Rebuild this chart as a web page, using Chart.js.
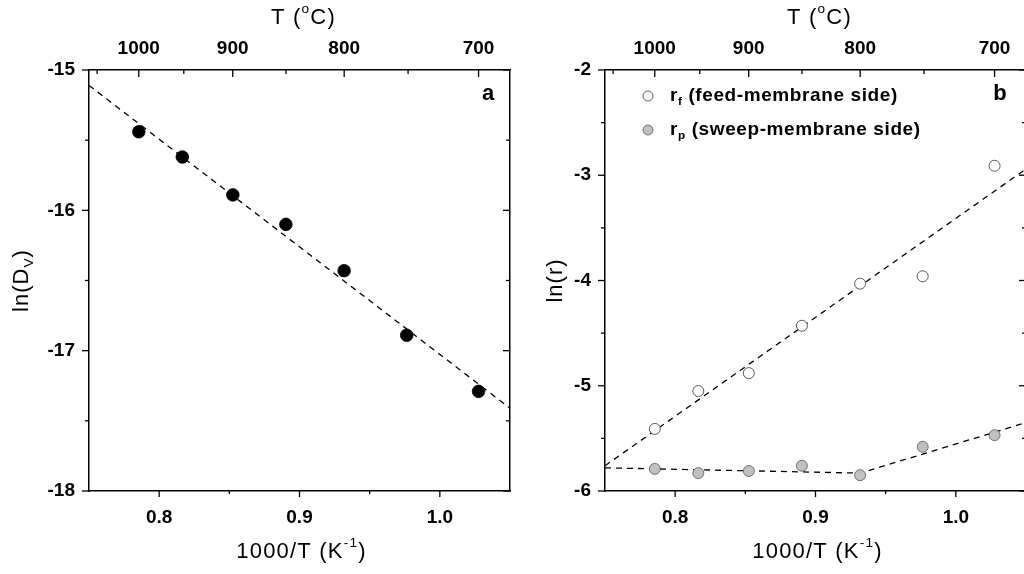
<!DOCTYPE html>
<html>
<head>
<meta charset="utf-8">
<script src="https://cdn.jsdelivr.net/npm/chart.js@4.4.0/dist/chart.umd.min.js"></script>
<style>
  html, body { margin: 0; padding: 0; background: #fff; overflow: hidden; width: 1024px; height: 574px; }
  .panel { position: absolute; top: 0; width: 520px; height: 574px; }
  #pa { left: 0; }
  #pb { left: 516px; }
</style>
</head>
<body>
<div class="panel" id="pa"><canvas id="chartA"></canvas></div>
<div class="panel" id="pb"><canvas id="chartB"></canvas></div>
<script>
// ===== DATA =====
const invT = [0.7855, 0.8165, 0.8525, 0.8903, 0.9318, 0.9764, 1.0276];   // 1000/T (K^-1)
const lnDv = [-15.44, -15.62, -15.89, -16.10, -16.43, -16.89, -17.29];
const lnRf = [-5.41, -5.05, -4.88, -4.43, -4.03, -3.96, -2.91];
const lnRp = [-5.79, -5.83, -5.81, -5.76, -5.85, -5.58, -5.47];

// dashed fit lines
const fitDvX = [0.75, 1.05],        fitDvY = [-15.11, -17.41];
const fitRfX = [0.75, 1.05],        fitRfY = [-5.76, -2.94];
const fitRpX = [0.75, 0.932, 1.05], fitRpY = [-5.78, -5.83, -5.35];

// ticks
const xTicks = [0.8, 0.85, 0.9, 0.95, 1.0];
const xLabels = [0.8, 0.9, 1.0];
const tempTicks = [1050, 1000, 950, 900, 850, 800, 750, 700];   // top axis, degC
const yTicksA = [-18, -17.5, -17, -16.5, -16, -15.5, -15];
const yTicksB = [-6, -5.5, -5, -4.5, -4, -3.5, -3, -2.5, -2];

const FONT = "'Liberation Sans', Arial, sans-serif";
const pts = (xs, ys) => xs.map((x, i) => ({ x, y: ys[i] }));

// ===== HELPERS =====
function drawRich(ctx, parts, x, y, size, weight, align, spacing) {
  const font = s => `${weight} ${s}px ${FONT}`;
  ctx.letterSpacing = (spacing || 0) + "px";
  let w = 0;
  parts.forEach(p => {
    ctx.font = font(p.sub || p.sup ? size * 0.62 : size);
    p.w = ctx.measureText(p.t).width;
    w += p.w;
  });
  let cx = align === "center" ? x - w / 2 : x;
  ctx.textBaseline = "middle";
  ctx.textAlign = "left";
  parts.forEach(p => {
    ctx.font = font(p.sub || p.sup ? size * 0.62 : size);
    const dy = p.sub ? size * 0.32 : p.sup ? -size * 0.38 : 0;
    ctx.fillText(p.t, cx, y + dy);
    cx += p.w;
  });
  ctx.letterSpacing = "0px";
}

// tick marks: outward on left/bottom, inward on top/right
const tickMarks = {
  id: "tickMarks",
  afterDraw(chart) {
    const { ctx, chartArea: a, scales: s } = chart;
    ctx.save();
    ctx.strokeStyle = "#000";
    ctx.lineWidth = 1.3;
    const seg = (x1, y1, x2, y2) => { ctx.beginPath(); ctx.moveTo(x1, y1); ctx.lineTo(x2, y2); ctx.stroke(); };
    s.x.ticks.forEach(t => { const p = s.x.getPixelForValue(t.value); seg(p, a.bottom, p, a.bottom + (t.label ? 6 : 3)); });
    s.x2.ticks.forEach(t => { const p = s.x2.getPixelForValue(t.value); seg(p, a.top, p, a.top + (t.label ? 7 : 4)); });
    s.y.ticks.forEach(t => { const p = s.y.getPixelForValue(t.value); seg(a.left - (t.label ? 7 : 4), p, a.left, p); });
    s.y2.ticks.forEach(t => { const p = s.y2.getPixelForValue(t.value); seg(a.right - (Number.isInteger(t.value) ? 7 : 4), p, a.right, p); });
    ctx.restore();
  }
};

// axis titles, panel letter, legend
const panelText = {
  id: "panelText",
  afterDraw(chart, args, o) {
    const { ctx, chartArea: a } = chart;
    const mid = (a.left + a.right) / 2;
    ctx.save();
    ctx.fillStyle = "#000";
    drawRich(ctx, [{ t: "T (" }, { t: "o", sup: true }, { t: "C)" }], mid + 4, 18, 22, "normal", "center", 1.2);
    drawRich(ctx, [{ t: "1000/T (K" }, { t: "-1", sup: true }, { t: ")" }], mid + 2, 552, 22, "normal", "center", 1.2);
    ctx.save();
    ctx.translate(o.yTitleX, (a.top + a.bottom) / 2);
    ctx.rotate(-Math.PI / 2);
    drawRich(ctx, o.yTitle, 0, 0, 22, "normal", "center", 1);
    ctx.restore();
    ctx.font = `bold 22px ${FONT}`;
    ctx.textAlign = "center";
    ctx.textBaseline = "middle";
    ctx.fillText(o.letter, o.letterX, 94);

    (o.legend || []).forEach((l, i) => {
      const ds = chart.data.datasets[l.ds];
      const y = 96 + i * 34;
      ctx.beginPath();
      ctx.arc(a.left + 43, y, 5, 0, Math.PI * 2);
      ctx.fillStyle = ds.pointBackgroundColor;
      ctx.fill();
      ctx.lineWidth = 0.8;
      ctx.strokeStyle = ds.pointBorderColor;
      ctx.stroke();
      ctx.fillStyle = "#000";
      drawRich(ctx, l.parts, a.left + 65, y, 19, "bold", "left", 0.6);
    });
    ctx.restore();
  }
};

function scatterSet(data, fill, border, r) {
  return { type: "scatter", data, pointRadius: r, pointHoverRadius: r, pointBackgroundColor: fill,
           pointBorderColor: border, pointBorderWidth: 0.8, showLine: false, order: 1 };
}
function fitSet(data) {
  return { type: "line", data, borderColor: "#000", borderWidth: 1.3, borderDash: [6, 5],
           pointRadius: 0, fill: false, tension: 0, order: 2 };
}

function scales(ymin, ymax, yTicks) {
  const border = { display: true, color: "#000", width: 1.5 };
  const tickFont = { family: FONT, size: 19, weight: "bold" };
  return {
    x: {
      type: "linear", position: "bottom", min: 0.75, max: 1.05,
      grid: { display: false }, border,
      ticks: { color: "#000", font: tickFont, padding: 7, autoSkip: false, maxRotation: 0,
               callback: v => xLabels.some(l => Math.abs(l - v) < 1e-6) ? v.toFixed(1) : "" },
      afterBuildTicks: s => { s.ticks = xTicks.map(value => ({ value })); },
      afterFit: s => { s.height = 83; }
    },
    x2: {
      type: "linear", position: "top", min: 0.75, max: 1.05,
      grid: { display: false }, border,
      ticks: { color: "#000", font: tickFont, padding: 2, autoSkip: false, maxRotation: 0,
               callback: v => { const t = Math.round(1000 / v - 273.15); return t % 100 === 0 ? String(t) : ""; } },
      afterBuildTicks: s => { s.ticks = tempTicks.map(t => ({ value: 1000 / (t + 273.15) })); },
      afterFit: s => { s.height = 70; }
    },
    y: {
      type: "linear", position: "left", min: ymin, max: ymax,
      grid: { display: false }, border,
      ticks: { color: "#000", font: tickFont, padding: 6, autoSkip: false,
               callback: v => Number.isInteger(v) ? String(v) : "" },
      afterBuildTicks: s => { s.ticks = yTicks.map(value => ({ value })); },
      afterFit: s => { s.width = 89; }
    },
    y2: {
      type: "linear", position: "right", min: ymin, max: ymax,
      grid: { display: false }, border,
      ticks: { display: false },
      afterBuildTicks: s => { s.ticks = yTicks.map(value => ({ value })); },
      afterFit: s => { s.width = 10; }
    }
  };
}

function baseOptions(ymin, ymax, yTicks, text) {
  return {
    responsive: true, maintainAspectRatio: false, animation: false,
    layout: { padding: 0 },
    plugins: { legend: { display: false }, tooltip: { enabled: false }, panelText: text },
    scales: scales(ymin, ymax, yTicks)
  };
}

// ===== PANEL a =====
new Chart(document.getElementById("chartA"), {
  data: {
    datasets: [
      scatterSet(pts(invT, lnDv), "#000", "#000", 6.3),
      fitSet(pts(fitDvX, fitDvY))
    ]
  },
  options: baseOptions(-18, -15, yTicksA, {
    letter: "a", letterX: 488, yTitleX: 22,
    yTitle: [{ t: "ln(D" }, { t: "V", sub: true }, { t: ")" }]
  }),
  plugins: [tickMarks, panelText]
});

// ===== PANEL b =====
new Chart(document.getElementById("chartB"), {
  data: {
    datasets: [
      scatterSet(pts(invT, lnRf), "#fff", "#333", 5.5),
      scatterSet(pts(invT, lnRp), "#c0c0c0", "#555", 5.5),
      fitSet(pts(fitRfX, fitRfY)),
      fitSet(pts(fitRpX, fitRpY))
    ]
  },
  options: baseOptions(-6, -2, yTicksB, {
    letter: "b", letterX: 484, yTitleX: 40,
    yTitle: [{ t: "ln(r)" }],
    legend: [
      { ds: 0, parts: [{ t: "r" }, { t: "f", sub: true }, { t: " (feed-membrane side)" }] },
      { ds: 1, parts: [{ t: "r" }, { t: "p", sub: true }, { t: " (sweep-membrane side)" }] }
    ]
  }),
  plugins: [tickMarks, panelText]
});
</script>
</body>
</html>
